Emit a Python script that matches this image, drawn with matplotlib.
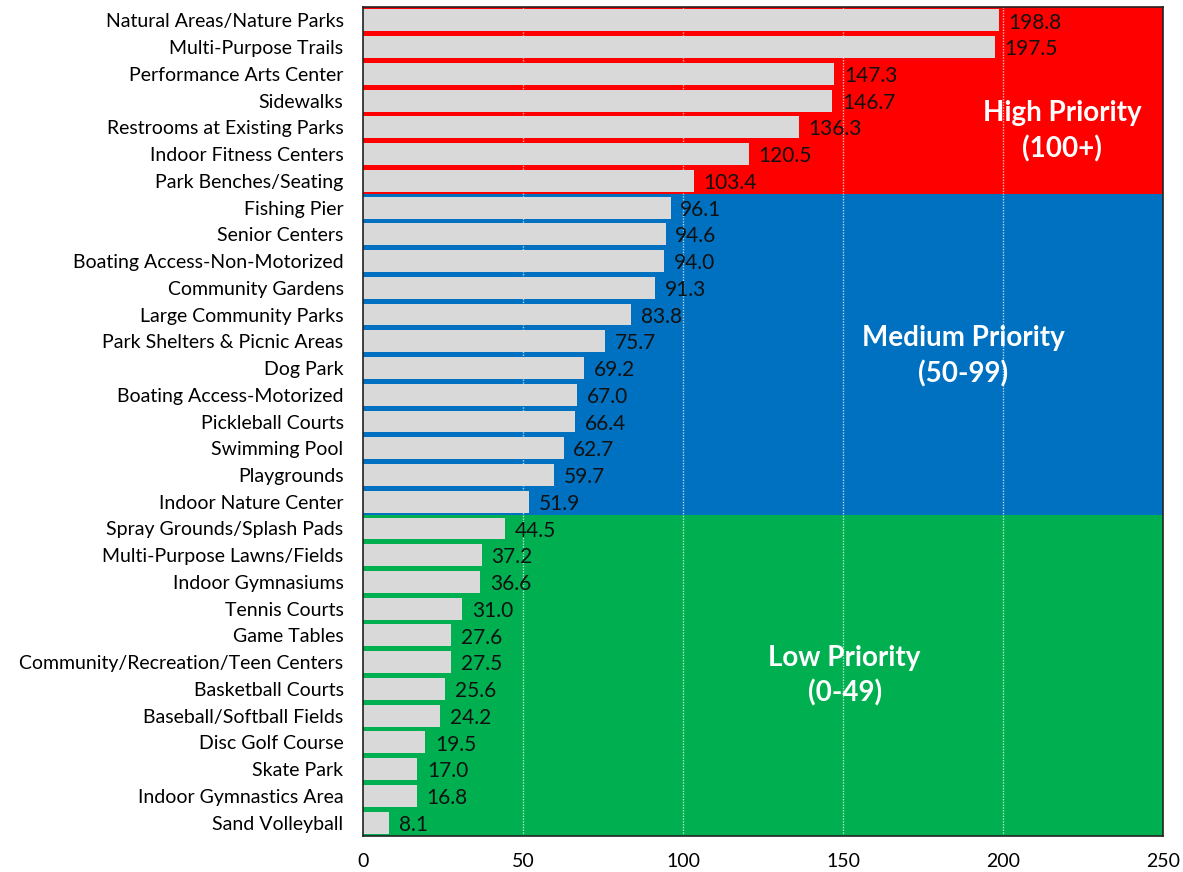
import matplotlib
matplotlib.use("Agg")
import matplotlib.pyplot as plt

categories = [
    "Natural Areas/Nature Parks", "Multi-Purpose Trails", "Performance Arts Center",
    "Sidewalks", "Restrooms at Existing Parks", "Indoor Fitness Centers",
    "Park Benches/Seating", "Fishing Pier", "Senior Centers",
    "Boating Access-Non-Motorized", "Community Gardens", "Large Community Parks",
    "Park Shelters & Picnic Areas", "Dog Park", "Boating Access-Motorized",
    "Pickleball Courts", "Swimming Pool", "Playgrounds", "Indoor Nature Center",
    "Spray Grounds/Splash Pads", "Multi-Purpose Lawns/Fields", "Indoor Gymnasiums",
    "Tennis Courts", "Game Tables", "Community/Recreation/Teen Centers",
    "Basketball Courts", "Baseball/Softball Fields", "Disc Golf Course",
    "Skate Park", "Indoor Gymnastics Area", "Sand Volleyball",
]
values = [198.8, 197.5, 147.3, 146.7, 136.3, 120.5, 103.4, 96.1, 94.6, 94.0,
          91.3, 83.8, 75.7, 69.2, 67.0, 66.4, 62.7, 59.7, 51.9, 44.5, 37.2,
          36.6, 31.0, 27.6, 27.5, 25.6, 24.2, 19.5, 17.0, 16.8, 8.1]
xticks = [0, 50, 100, 150, 200, 250]
band_labels = ["High Priority\n(100+)", "Medium Priority\n(50-99)", "Low Priority\n(0-49)"]
band_thresholds = [100, 50, 0]
band_colors = ["#FF0000", "#0070C0", "#00B050"]
# label anchor positions (x in data units, y in row units)
band_label_x = [218.5, 187.5, 150.5]
band_label_y = [4.15, 12.55, 24.5]

plt.rcParams['font.family'] = ['Lato', 'DejaVu Sans']

fig = plt.figure(figsize=(11.83, 8.72), dpi=100)
ax = fig.add_axes([363/1183, 1-836/872, 800/1183, 829/872])

n = len(categories)
ys = list(range(n))
ax.set_ylim(n - 0.5, -0.5)
ax.set_xlim(0, 250)

for k, (label, thr, color) in enumerate(zip(band_labels, band_thresholds, band_colors)):
    upper = band_thresholds[k-1] if k > 0 else float('inf')
    rows = [i for i, v in enumerate(values) if thr <= v < upper]
    top = min(rows) - 0.5
    bot = max(rows) + 0.5
    ax.axhspan(top, bot, color=color, zorder=0, lw=0)
    ax.text(band_label_x[k], band_label_y[k], label, ha='center', va='center',
            color='white', fontsize=20, fontweight='bold', zorder=4,
            linespacing=1.4)

for x in xticks[1:-1]:
    ax.axvline(x, color='white', lw=1, ls=(0, (1, 1)), alpha=0.7, zorder=1)

ax.barh(ys, values, height=0.82, color='#D9D9D9', zorder=2)
for y, v in zip(ys, values):
    ax.text(v + 3, y + 0.08, f"{v:.1f}", va='center', ha='left', fontsize=15,
            color='#111111', zorder=3)

ax.set_yticks(ys)
ax.set_yticklabels(categories, fontsize=14)
ax.set_xticks(xticks)
ax.set_xticklabels([str(t) for t in xticks], fontsize=14)
ax.tick_params(axis='both', length=0)
ax.tick_params(axis='x', pad=12)
ax.tick_params(axis='y', pad=14)
for s in ax.spines.values():
    s.set_color('#222222')
    s.set_linewidth(1.2)

fig.savefig("out.png", dpi=100)
